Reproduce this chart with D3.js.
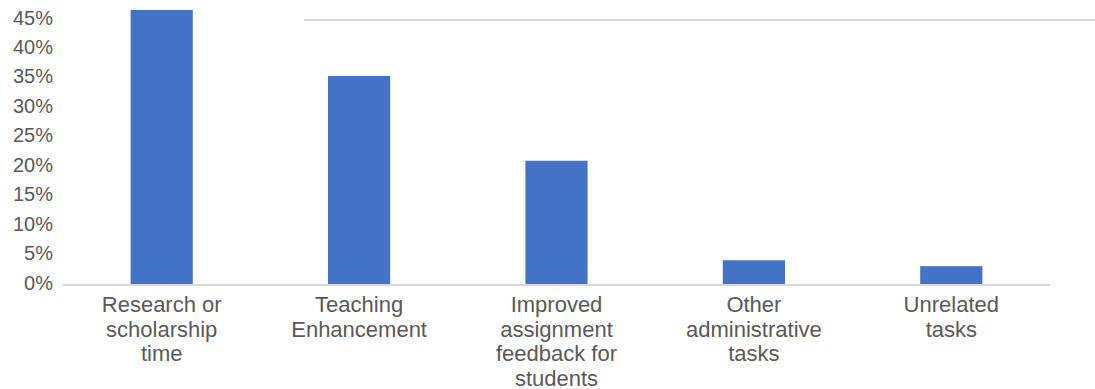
<!DOCTYPE html>
<html>
<head>
<meta charset="utf-8">
<script src="https://cdn.jsdelivr.net/npm/d3@7"></script>
<style>
  html, body { margin: 0; padding: 0; background: #fff; }
  svg { display: block; font-family: "Liberation Sans", Arial, sans-serif; }
</style>
</head>
<body>
<svg id="chart" width="1095" height="389"></svg>
<script>
const categories = [
  "Research or scholarship time",
  "Teaching Enhancement",
  "Improved assignment feedback for students",
  "Other administrative tasks",
  "Unrelated tasks"
];
const categoryLines = [
  ["Research or", "scholarship", "time"],
  ["Teaching", "Enhancement"],
  ["Improved", "assignment", "feedback for", "students"],
  ["Other", "administrative", "tasks"],
  ["Unrelated", "tasks"]
];
const values = [46.7, 35.5, 21.1, 4.2, 3.2];
const yTicks = [0, 5, 10, 15, 20, 25, 30, 35, 40, 45];

const svg = d3.select("#chart");
const mLeft = 63, mRight = 1050, mTop = 20, mBottom = 285;

const x = d3.scaleBand().domain(categories).range([mLeft, mRight]).padding(0);
const y = d3.scaleLinear().domain([0, 45]).range([mBottom, mTop]);
const barW = x.bandwidth() * 0.315;

// top gridline (only partially visible in the original)
svg.append("line")
  .attr("x1", 304).attr("x2", 1095)
  .attr("y1", y(45)).attr("y2", y(45))
  .attr("stroke", "#d9d9d9").attr("stroke-width", 2);

// bars
svg.append("g").selectAll("rect")
  .data(categories)
  .join("rect")
  .attr("x", (d) => x(d) + x.bandwidth() / 2 - barW / 2)
  .attr("width", barW)
  .attr("y", (d, i) => y(values[i]))
  .attr("height", (d, i) => y(0) - y(values[i]))
  .attr("fill", "#4472c4");

// baseline
svg.append("line")
  .attr("x1", mLeft).attr("x2", mRight)
  .attr("y1", y(0)).attr("y2", y(0))
  .attr("stroke", "#d9d9d9").attr("stroke-width", 2);

// y axis
const yAxis = d3.axisLeft(y).tickValues(yTicks).tickSize(0).tickPadding(10)
  .tickFormat((d) => d + "%");
const gy = svg.append("g").attr("transform", `translate(${mLeft},0)`).call(yAxis);
gy.select(".domain").remove();
gy.selectAll("text")
  .attr("font-size", 20)
  .attr("fill", "#595959")
  .attr("font-family", "Liberation Sans, Arial, sans-serif")
  .attr("dy", "0.2em");

// x axis labels
const xAxis = d3.axisBottom(x).tickSize(0).tickFormat("");
const gx = svg.append("g").attr("transform", `translate(0,${mBottom})`).call(xAxis);
gx.select(".domain").remove();
gx.selectAll(".tick").each(function (d, i) {
  const t = d3.select(this).append("text")
    .attr("text-anchor", "middle")
    .attr("fill", "#595959")
    .attr("font-size", 22)
    .attr("font-family", "Liberation Sans, Arial, sans-serif");
  categoryLines[i].forEach((line, k) => {
    t.append("tspan").attr("x", 0).attr("y", 27 + k * 24.5).text(line);
  });
});
</script>
</body>
</html>
